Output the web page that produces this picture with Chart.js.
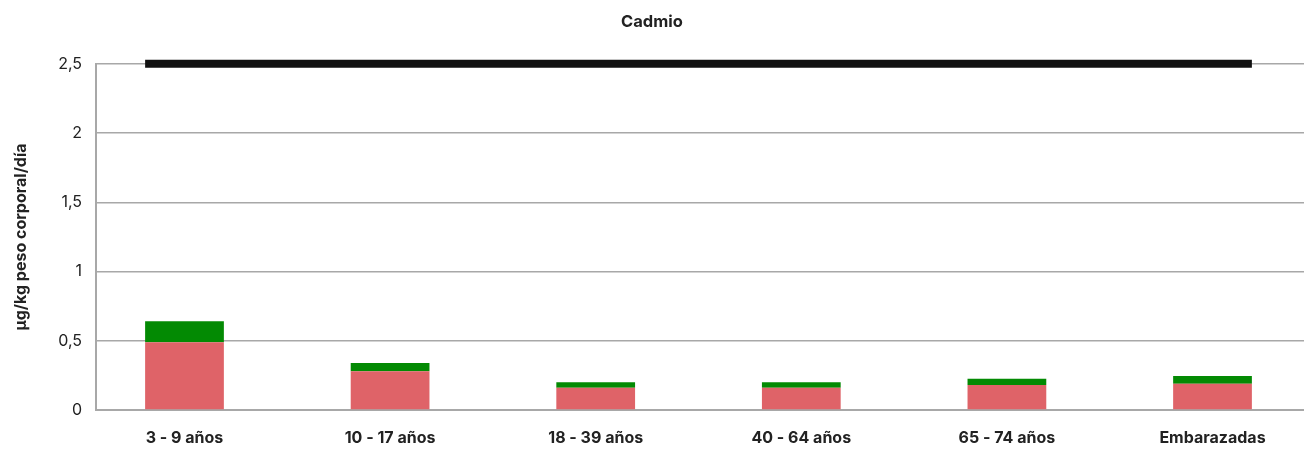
<!DOCTYPE html>
<html>
<head>
<meta charset="utf-8">
<script src="https://cdn.jsdelivr.net/npm/chart.js@4/dist/chart.umd.min.js"></script>
<style>
  html, body { margin: 0; padding: 0; background: #fff; }
  #wrap { width: 1304px; height: 449px; }
</style>
</head>
<body>
<div id="wrap"><canvas id="c" width="1304" height="449"></canvas></div>
<script>
// Cadmium intake by population group (µg/kg body weight/day)
const categories = ['3 - 9 años', '10 - 17 años', '18 - 39 años', '40 - 64 años', '65 - 74 años', 'Embarazadas'];
const meanIntake = [0.49, 0.28, 0.16, 0.16, 0.18, 0.19];
const upperIncrement = [0.15, 0.06, 0.04, 0.04, 0.045, 0.055];
const tolerableLimit = 2.5;
const yTicks = [0, 0.5, 1, 1.5, 2, 2.5];

const BAR_FRACTION = 0.383;
const X_MIN = -0.4304;
const X_MAX = 5.445;
const TEXT = '#222222';
const GRID = '#a8a8a8';

const barPoints = arr => arr.map((v, i) => ({ x: i, y: v }));
const half = BAR_FRACTION / 2;
const limitLine = [
  { x: -half, y: tolerableLimit },
  { x: categories.length - 1 + half, y: tolerableLimit }
];

new Chart(document.getElementById('c'), {
  data: {
    datasets: [
      {
        type: 'bar',
        label: 'Media',
        data: barPoints(meanIntake),
        backgroundColor: '#df6368',
        barPercentage: BAR_FRACTION,
        categoryPercentage: 1,
        order: 1
      },
      {
        type: 'bar',
        label: 'P95',
        data: barPoints(upperIncrement),
        backgroundColor: '#038a03',
        barPercentage: BAR_FRACTION,
        categoryPercentage: 1,
        order: 2
      },
      {
        type: 'line',
        label: 'Límite',
        data: limitLine,
        borderColor: '#111111',
        borderWidth: 8,
        pointRadius: 0,
        borderCapStyle: 'butt',
        clip: false,
        order: 0
      }
    ]
  },
  options: {
    responsive: false,
    animation: false,
    devicePixelRatio: 1,
    layout: { padding: 0 },
    plugins: {
      legend: { display: false },
      tooltip: { enabled: false },
      title: {
        display: true,
        text: 'Cadmio',
        color: TEXT,
        font: { family: 'Inter', size: 16.5, weight: 'bold', lineHeight: 1.2 },
        padding: { top: 12, bottom: 32 }
      }
    },
    scales: {
      x: {
        type: 'linear',
        stacked: true,
        offset: false,
        bounds: 'data',
        min: X_MIN,
        max: X_MAX,
        afterBuildTicks: s => {
          s.ticks = categories.map((_, i) => ({ value: i }));
          s.min = X_MIN;
          s.max = X_MAX;
        },
        afterFit: s => { s.height = 39; },
        grid: { display: false, drawTicks: false },
        border: { display: true, color: GRID, width: 2 },
        ticks: {
          autoSkip: false,
          maxRotation: 0,
          padding: 19,
          color: TEXT,
          font: { family: 'Inter', size: 16, weight: 'bold' },
          callback: v => categories[v] ?? ''
        }
      },
      y: {
        type: 'linear',
        stacked: true,
        min: 0,
        max: 2.5,
        afterBuildTicks: s => { s.ticks = yTicks.map(v => ({ value: v })); },
        afterFit: s => { s.width = 96; },
        grid: { color: GRID, lineWidth: 1.5, drawTicks: false },
        border: { display: true, color: GRID, width: 2 },
        title: {
          display: true,
          text: 'µg/kg peso corporal/día',
          color: TEXT,
          font: { family: 'Inter', size: 16, weight: 'bold' },
          padding: { top: 12, bottom: 4 }
        },
        ticks: {
          padding: 14,
          color: TEXT,
          font: { family: 'Inter', size: 16 },
          callback: v => String(v).replace('.', ',')
        }
      }
    }
  }
});
</script>
</body>
</html>
